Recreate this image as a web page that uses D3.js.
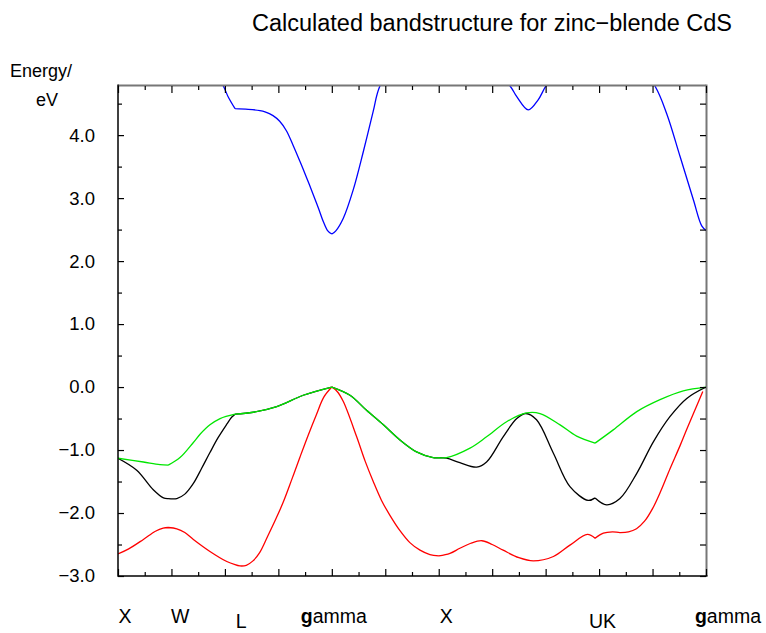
<!DOCTYPE html>
<html>
<head>
<meta charset="utf-8">
<script src="https://cdn.jsdelivr.net/npm/d3@7"></script>
<style>
  body { margin: 0; background: #fff; }
  svg { display: block; }
  text { font-family: "Liberation Sans", Arial, Helvetica, sans-serif; fill: #000; }
</style>
</head>
<body>
<svg id="chart" width="766" height="633"></svg>
<script>
// High-symmetry points along the k-path (path coordinate, tick units)
const symK = [0, 1.88, 4.38, 8, 12, 17.85, 22];
const symLabels = ["X", "W", "L", "gamma", "X", "UK", "gamma"];
const energyTicks = [-3, -2, -1, 0, 1, 2, 3, 4];
const energyMinorTicks = [-2.5, -1.5, -0.5, 0.5, 1.5, 2.5, 3.5, 4.5];

// Bands: [k, E (eV)]
const conduction = [
  [0, 5.35], [1.0, 5.6], [1.88, 5.75], [3.0, 5.45], [3.94, 4.78], [4.12, 4.61], [4.38, 4.42],
  [4.87, 4.41], [5.31, 4.39], [5.5, 4.37], [5.8, 4.31], [6.05, 4.22], [6.3, 4.07], [6.55, 3.84],
  [6.81, 3.58], [7.06, 3.32], [7.31, 3.05], [7.5, 2.84], [7.68, 2.63], [7.85, 2.48], [8.0, 2.43],
  [8.15, 2.48], [8.43, 2.68], [8.80, 3.13], [9.18, 3.74], [9.55, 4.38], [9.80, 4.78], [10.8, 5.45], [12.0, 5.7],
  [13.5, 5.3], [14.67, 4.78], [14.92, 4.61], [15.35, 4.40], [15.72, 4.56], [16.01, 4.78],
  [17.0, 5.35], [17.85, 5.6],
  [19.0, 5.4], [20.09, 4.78], [20.53, 4.34], [21.03, 3.66], [21.53, 2.97], [21.84, 2.56], [22.0, 2.49]
];
const valenceTop = [
  [0, -1.13], [0.95, -1.19], [1.57, -1.23], [1.88, -1.24],
  [2.32, -1.12], [2.82, -0.88], [3.07, -0.75], [3.44, -0.60], [3.82, -0.50], [4.38, -0.43],
  [5.06, -0.40], [5.94, -0.31], [6.93, -0.13], [8.0, 0],
  [8.68, -0.13], [9.30, -0.37], [9.93, -0.60], [10.55, -0.84], [11.17, -1.03], [11.79, -1.12], [12.0, -1.12],
  [12.29, -1.12], [13.17, -0.97], [13.79, -0.79], [14.54, -0.55], [15.29, -0.41], [15.79, -0.42],
  [16.54, -0.60], [17.16, -0.78], [17.85, -0.89],
  [18.53, -0.68], [19.41, -0.39], [20.28, -0.20], [21.15, -0.06], [22, 0]
];
const valenceMid = [
  [0, -1.13], [0.70, -1.32], [1.32, -1.63], [1.70, -1.76], [1.88, -1.77],
  [2.20, -1.77], [2.5, -1.70], [2.82, -1.53], [3.13, -1.29], [3.44, -1.04], [3.75, -0.80],
  [4.07, -0.59], [4.25, -0.48], [4.38, -0.43],
  [5.06, -0.40], [5.94, -0.31], [6.93, -0.13], [8.0, 0],
  [8.68, -0.13], [9.30, -0.37], [9.93, -0.60], [10.55, -0.84], [11.17, -1.03], [11.79, -1.12], [12.0, -1.12],
  [12.29, -1.13], [12.79, -1.20], [13.42, -1.27], [13.79, -1.19], [14.41, -0.79], [14.92, -0.50],
  [15.26, -0.42], [15.66, -0.52], [16.29, -1.05], [16.91, -1.58], [17.59, -1.80], [17.85, -1.76],
  [18.28, -1.87], [18.78, -1.77], [19.41, -1.37], [20.03, -0.87], [20.65, -0.47], [21.28, -0.18], [22, 0]
];
const valenceLow = [
  [0, -2.65], [0.4, -2.57], [0.95, -2.42], [1.4, -2.29], [1.69, -2.24], [1.88, -2.23],
  [2.20, -2.25], [2.5, -2.31], [2.82, -2.42], [3.44, -2.61], [4.07, -2.77], [4.38, -2.82],
  [4.56, -2.84], [4.80, -2.83], [5.05, -2.76], [5.3, -2.63], [5.6, -2.37], [5.9, -2.10],
  [6.18, -1.83], [6.5, -1.47], [6.81, -1.11], [7.12, -0.76], [7.43, -0.43], [7.7, -0.16], [8.0, 0],
  [8.2, -0.07], [8.43, -0.23], [8.93, -0.79], [9.25, -1.18], [9.55, -1.50], [9.86, -1.80], [10.18, -2.04],
  [10.55, -2.28], [10.92, -2.47], [11.30, -2.59], [11.67, -2.66], [12.0, -2.68],
  [12.42, -2.64], [12.79, -2.56], [13.2, -2.48], [13.61, -2.44], [14.0, -2.50], [14.41, -2.59],
  [15.0, -2.71], [15.54, -2.76], [16.29, -2.69], [16.91, -2.51], [17.56, -2.34], [17.85, -2.40],
  [18.16, -2.32], [18.5, -2.30], [18.78, -2.31], [19.1, -2.30], [19.4, -2.25], [19.7, -2.13],
  [20.0, -1.93], [20.3, -1.66], [20.65, -1.30], [21.03, -0.93], [21.3, -0.65], [21.53, -0.42], [21.88, -0.07]
];

const bands = [
  { pts: valenceMid, color: "#000000" },
  { pts: valenceLow, color: "#ff0000" },
  { pts: valenceTop, color: "#00e600" },
  { pts: conduction, color: "#0000ff" }
];

const svg = d3.select("#chart");
const plot = { left: 118, top: 86, right: 706, bottom: 576 };

const x = d3.scaleLinear().domain([0, 22]).range([plot.left, plot.right]);
const y = d3.scaleLinear().domain([-3, 4.78]).range([plot.bottom, plot.top]);

// Title
svg.append("text")
  .attr("x", 492).attr("y", 31)
  .attr("text-anchor", "middle")
  .attr("font-size", 23.5)
  .text("Calculated bandstructure for zinc\u2212blende CdS");

// Axis caption
svg.append("text").attr("x", 10).attr("y", 77).attr("font-size", 18).text("Energy/");
svg.append("text").attr("x", 47).attr("y", 106).attr("font-size", 18)
  .attr("text-anchor", "middle").text("eV");

// Bands, split at the high-symmetry points
svg.append("clipPath").attr("id", "plotClip")
  .append("rect")
  .attr("x", plot.left).attr("y", plot.top)
  .attr("width", plot.right - plot.left).attr("height", plot.bottom - plot.top);

function segments(pts) {
  const out = [];
  for (let i = 0; i < symK.length - 1; i++) {
    const a = symK[i], b = symK[i + 1];
    const seg = pts.filter(p => p[0] >= a - 1e-9 && p[0] <= b + 1e-9);
    if (seg.length > 1) out.push(seg);
  }
  return out;
}

const line = d3.line()
  .x(d => x(d[0]))
  .y(d => y(d[1]))
  .curve(d3.curveCatmullRom.alpha(0.5));

const bandLayer = svg.append("g").attr("clip-path", "url(#plotClip)");
bands.forEach(b => {
  bandLayer.append("path")
    .attr("d", segments(b.pts).map(s => line(s)).join(""))
    .attr("fill", "none")
    .attr("stroke", b.color)
    .attr("stroke-width", 1.3)
    .attr("stroke-linejoin", "round");
});

// Frame: top and right in grey, left and bottom in black
svg.append("line")
  .attr("x1", plot.left).attr("x2", plot.right).attr("y1", plot.top - 0.5).attr("y2", plot.top - 0.5)
  .attr("stroke", "#777").attr("stroke-width", 2);
svg.append("line")
  .attr("x1", plot.right + 0.5).attr("x2", plot.right + 0.5).attr("y1", plot.top - 1.5).attr("y2", plot.bottom)
  .attr("stroke", "#777").attr("stroke-width", 2);

const fmt = d3.format(".1f");
const kTicks = d3.range(0, 23, 1);
const kMajor = kTicks.filter(k => k % 2 === 0);
const kMinor = kTicks.filter(k => k % 2 === 1);

function tickAxis(axisGen, values, size, g) {
  const sel = svg.append("g").attr("transform", g)
    .call(axisGen.tickValues(values).tickSizeInner(size).tickSizeOuter(0).tickFormat(""));
  sel.select(".domain").remove();
  sel.selectAll(".tick line").attr("stroke", "#000").attr("stroke-width", 1.2);
  return sel;
}

// Left axis with labels
const leftMajor = svg.append("g").attr("transform", `translate(${plot.left},0)`)
  .call(d3.axisLeft(y).tickValues(energyTicks).tickSizeInner(-6).tickSizeOuter(0)
    .tickPadding(23).tickFormat(d => fmt(d)));
leftMajor.select(".domain").remove();
leftMajor.selectAll(".tick line").attr("stroke", "#000").attr("stroke-width", 1.2);
leftMajor.selectAll(".tick text")
  .attr("font-size", 18.5)
  .attr("font-family", "'Liberation Sans', Arial, sans-serif")
  .attr("fill", "#000");
tickAxis(d3.axisLeft(y), energyMinorTicks, -4, `translate(${plot.left},0)`);

// Right axis ticks
tickAxis(d3.axisRight(y), energyTicks, -6, `translate(${plot.right},0)`);
tickAxis(d3.axisRight(y), energyMinorTicks, -6, `translate(${plot.right},0)`);

// Bottom and top ticks along k
tickAxis(d3.axisBottom(x), kMajor, -7, `translate(0,${plot.bottom})`);
tickAxis(d3.axisBottom(x), kMinor, -4, `translate(0,${plot.bottom})`);
tickAxis(d3.axisTop(x), kMajor, -7, `translate(0,${plot.top})`);
tickAxis(d3.axisTop(x), kMinor, -4, `translate(0,${plot.top})`);

// Left and bottom axis lines
svg.append("line")
  .attr("x1", plot.left).attr("x2", plot.left).attr("y1", plot.top - 1.5).attr("y2", plot.bottom + 0.75)
  .attr("stroke", "#000").attr("stroke-width", 1.5);
svg.append("line")
  .attr("x1", plot.left).attr("x2", plot.right + 1.5).attr("y1", plot.bottom).attr("y2", plot.bottom)
  .attr("stroke", "#000").attr("stroke-width", 1.5);

// High-symmetry point labels
const labelShift = [7, 12, 6, 2, 7.5, 7.5, 22];
const labelBase = [623, 623, 628, 623, 623, 628, 623];
symLabels.forEach((name, i) => {
  const t = svg.append("text")
    .attr("x", x(symK[i]) + labelShift[i])
    .attr("y", labelBase[i])
    .attr("text-anchor", "middle")
    .attr("font-size", 19.5);
  if (name === "gamma") {
    t.append("tspan").attr("font-weight", "bold").text("g");
    t.append("tspan").text("amma");
  } else {
    t.text(name);
  }
});
</script>
</body>
</html>
